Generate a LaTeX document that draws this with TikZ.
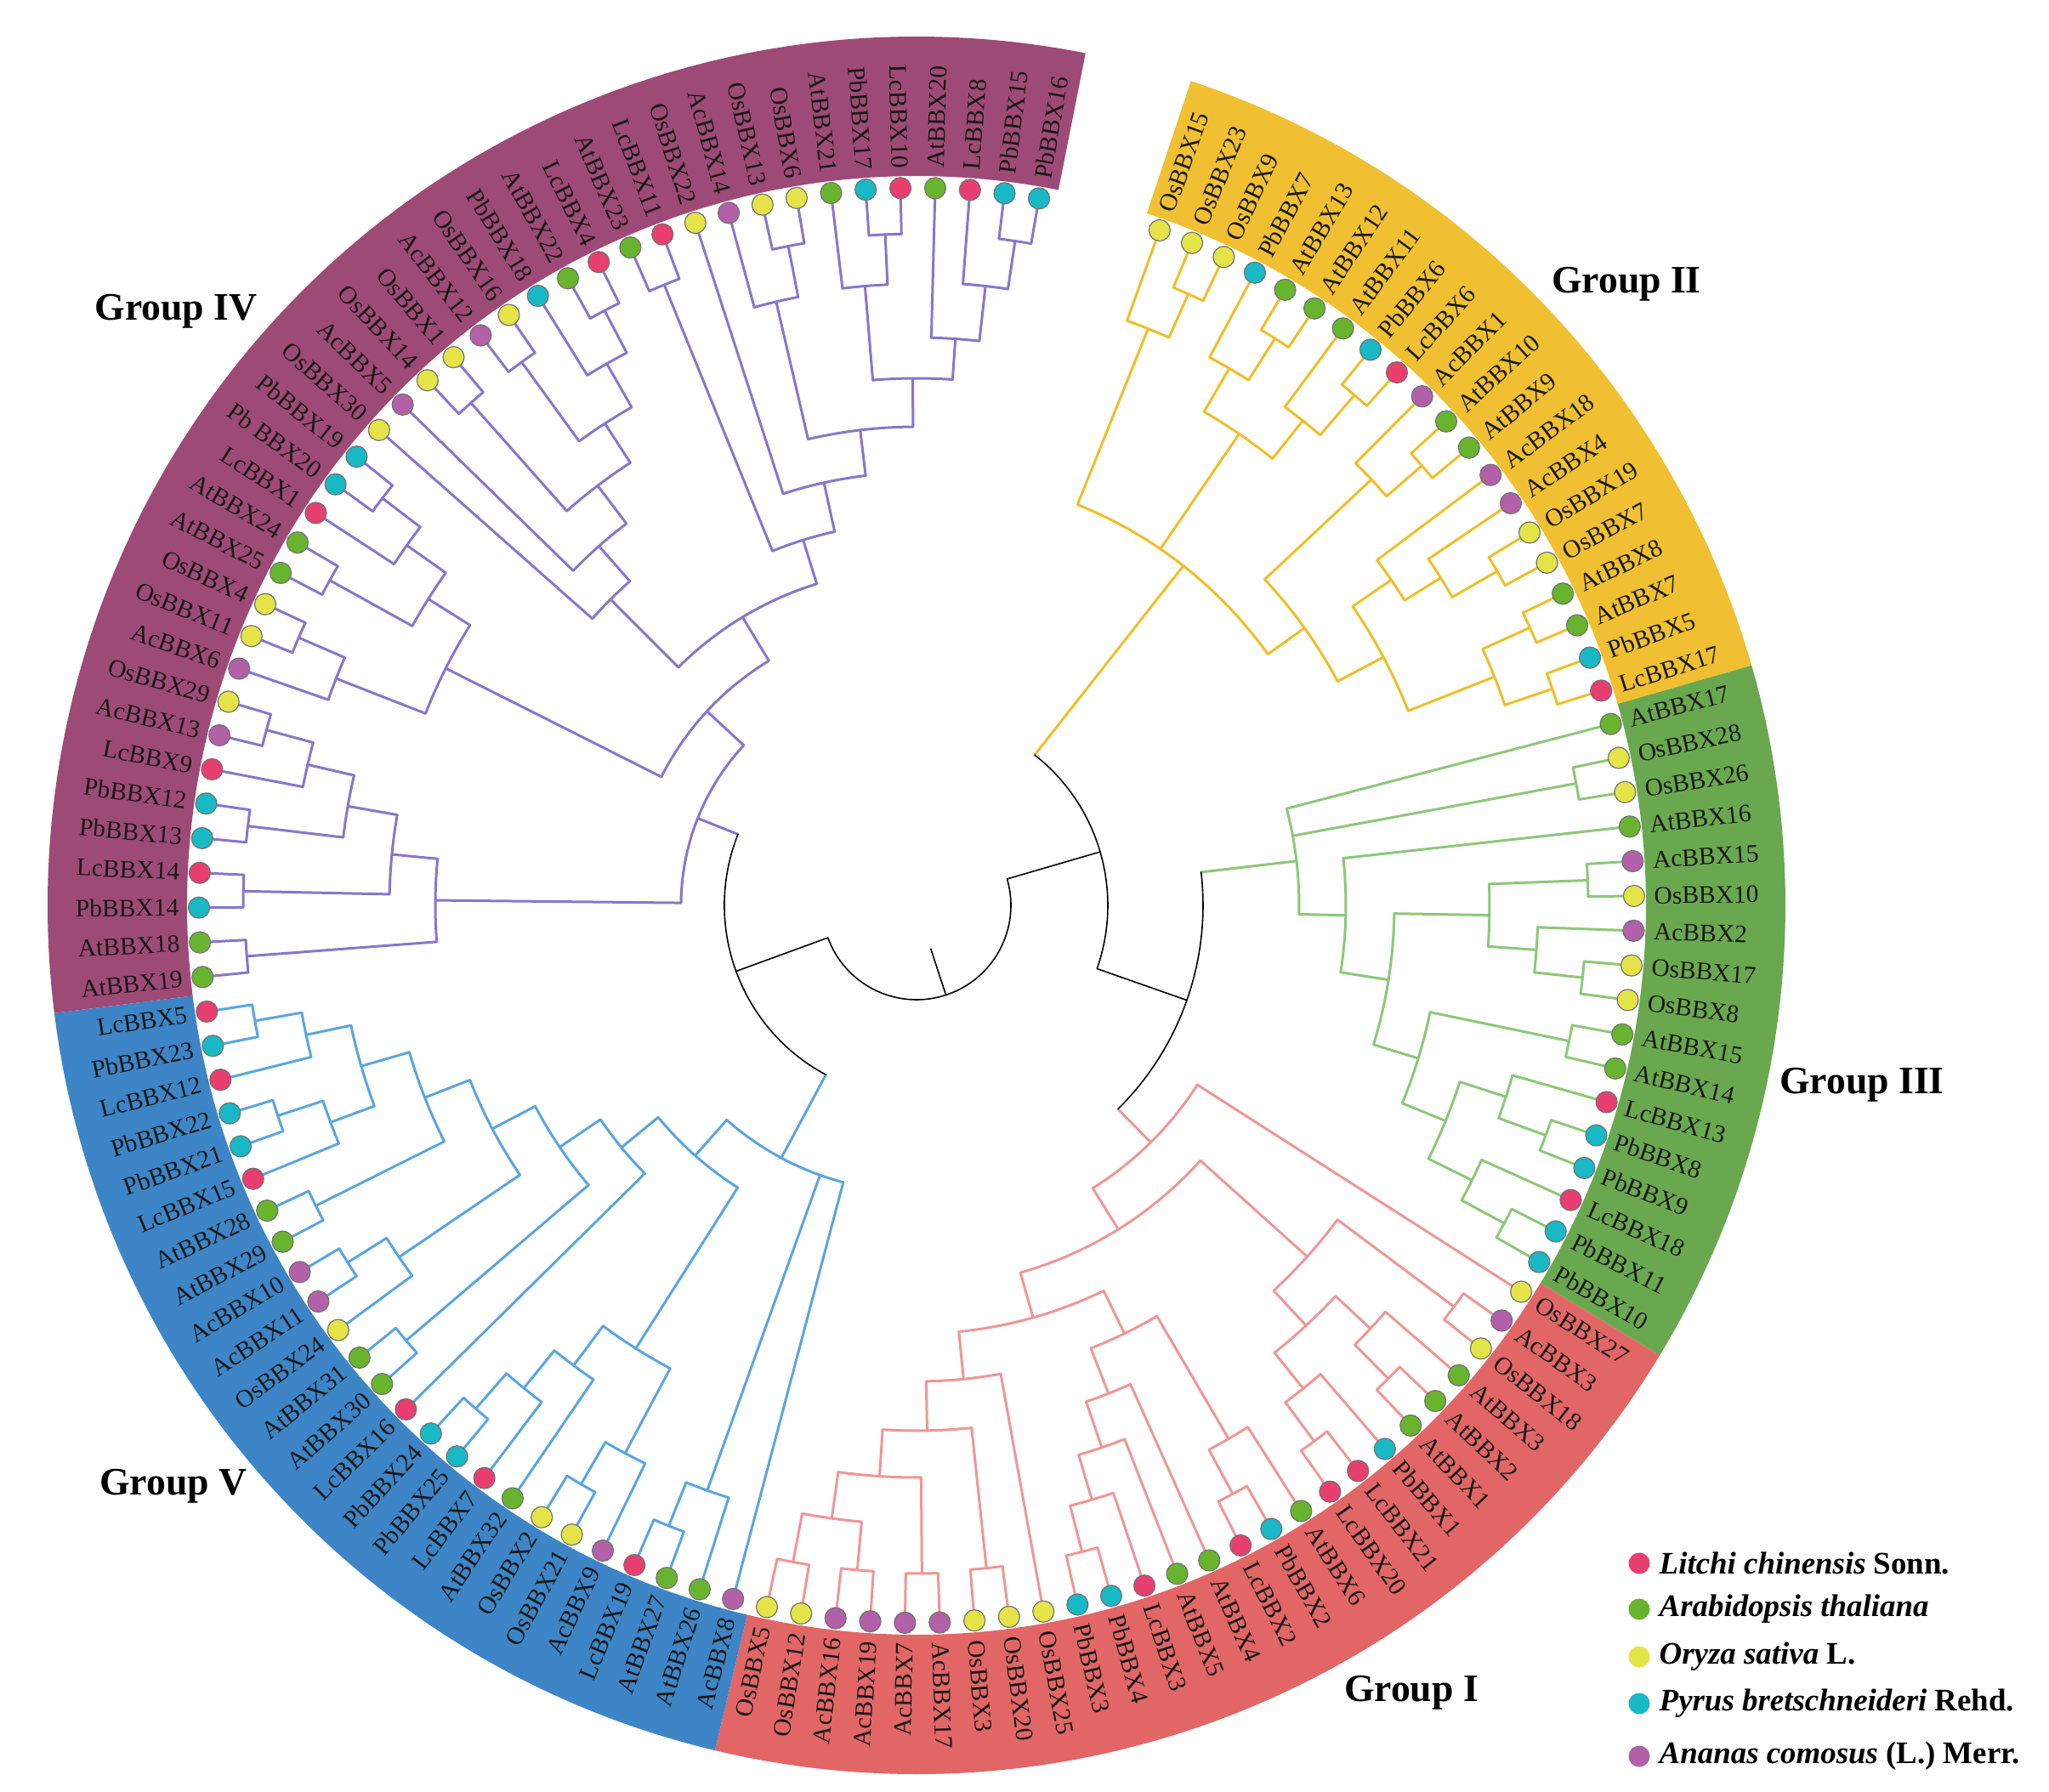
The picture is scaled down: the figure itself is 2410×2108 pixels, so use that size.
\documentclass[tikz,border=0pt]{standalone}
\usepackage{fontspec}
\setmainfont{Liberation Serif}
\definecolor{lc}{HTML}{E83E70}
\definecolor{at}{HTML}{68B42E}
\definecolor{os}{HTML}{E4E448}
\definecolor{pb}{HTML}{18B8C4}
\definecolor{ac}{HTML}{B260A8}
\definecolor{ring1}{HTML}{E26666}
\definecolor{ring2}{HTML}{F0C032}
\definecolor{ring3}{HTML}{6AA84F}
\definecolor{ring4}{HTML}{9E4A76}
\definecolor{ring5}{HTML}{3D85C6}
\definecolor{c1}{HTML}{F09696}
\definecolor{c2}{HTML}{F0BE28}
\definecolor{c3}{HTML}{8CC878}
\definecolor{c4}{HTML}{8876CC}
\definecolor{c5}{HTML}{5AA5E1}
\newcount\leafidx
\def\thz{70.2}
\def\dth{2.778}
\def\rleaf{844}
\def\rlab{867}
\gdef\gfirst{}\gdef\glast{}
\def\report#1{\ifx\gfirst\empty\xdef\gfirst{#1}\fi\xdef\glast{#1}}
\newcommand\Lf[2]{%
  \pgfmathsetmacro\ang{\thz-\the\leafidx*\dth}%
  \draw[br] (\ang:\rleaf) -- (\ang:\parentr);
  \node[leafdot,fill=#2] (d\the\leafidx) at (\ang:\rleaf) {};
  \pgfmathtruncatemacro\isleft{cos(\ang)<0 ? 1 : 0}%
  \ifnum\isleft=1
    \pgfmathsetmacro\rot{\ang+180}%
    \node[leaflab,anchor=east,rotate=\rot] (t\the\leafidx) at (\ang:\rlab) {#1};
  \else
    \node[leaflab,anchor=west,rotate=\ang] (t\the\leafidx) at (\ang:\rlab) {#1};
  \fi
  \global\advance\leafidx by 1
  \report{\ang}%
}
\newcommand\T[2]{%
  \begingroup
  \let\savedfirst\gfirst\let\savedlast\glast
  \let\myparentr\parentr
  \def\parentr{#1}%
  \gdef\gfirst{}\gdef\glast{}%
  #2%
  \pgfmathsetmacro\myang{(\gfirst+\glast)/2}%
  \draw[br] (\gfirst:#1) arc[start angle=\gfirst,end angle=\glast,radius=#1];
  \draw[br] (\myang:#1) -- (\myang:\myparentr);
  \global\let\gfirst\savedfirst\global\let\glast\savedlast
  \report{\myang}%
  \endgroup}
\newcommand\G[2]{\begingroup\tikzset{br/.style={draw=#1,line width=0.3mm,line cap=round}}#2\endgroup}
\newcommand\Ring[3]{\fill[#1] (#2:858) arc[start angle=#2,end angle=#3,radius=858] -- (#3:1022) arc[start angle=#3,end angle=#2,radius=1022] -- cycle;}
\begin{document}
\begin{tikzpicture}[x=0.1mm,y=0.1mm,
  br/.style={draw=black,line width=0.16mm,line cap=round},
  leafdot/.style={circle,draw=black!55,line width=0.12mm,minimum size=2.5mm,inner sep=0pt},
  leaflab/.style={inner sep=0pt,font=\fontsize{8.4}{10}\selectfont,text=black!90},
  grp/.style={font=\fontsize{13}{15}\selectfont\bfseries},
  legdot/.style={circle,minimum size=2.5mm,inner sep=0pt},
  legtxt/.style={anchor=west,inner sep=0pt,font=\fontsize{10.5}{12}\selectfont\bfseries}]
\useasboundingbox (-1078,-1043) rectangle (1332,1065);
\fill[white] (-1078,-1043) rectangle (1332,1065);
% coloured rings
\Ring{ring2}{71.59}{16.03}
\Ring{ring3}{16.03}{-31.20}
\Ring{ring1}{-31.20}{-103.42}
\Ring{ring5}{-103.42}{-172.87}
\Ring{ring4}{-172.87}{-281.22}
% tree
\def\parentr{54}
\T{111}{%
 \T{225}{%
  \G{c2}{%
   \T{508}{%
    \T{731}{\Lf{OsBBX15}{os}\T{787}{\Lf{OsBBX23}{os}\Lf{OsBBX9}{os}}}%
    \T{672}{\T{731}{\Lf{PbBBX7}{pb}\T{789}{\Lf{AtBBX13}{at}\Lf{AtBBX12}{at}}}\T{729}{\Lf{AtBBX11}{at}\T{791}{\Lf{PbBBX6}{pb}\Lf{LcBBX6}{lc}}}}%
    \T{561}{\T{733}{\Lf{AcBBX1}{ac}\T{788}{\Lf{AtBBX10}{at}\Lf{AtBBX9}{at}}}\T{622}{\T{677}{\Lf{AcBBX18}{ac}\T{727}{\Lf{AcBBX4}{ac}\T{788}{\Lf{OsBBX19}{os}\Lf{OsBBX7}{os}}}}\T{731}{\T{792}{\Lf{AtBBX8}{at}\Lf{AtBBX7}{at}}\T{790}{\Lf{PbBBX5}{pb}\Lf{LcBBX17}{lc}}}}}%
   }%
  }%
  \T{337}{%
   \G{c3}{%
    \T{450}{\Lf{AtBBX17}{at}\T{789}{\Lf{OsBBX28}{os}\Lf{OsBBX26}{os}}\T{505}{\Lf{AtBBX16}{at}\T{562}{\T{674}{\T{790}{\Lf{AcBBX15}{ac}\Lf{OsBBX10}{os}}\T{731}{\Lf{AcBBX2}{ac}\T{788}{\Lf{OsBBX17}{os}\Lf{OsBBX8}{os}}}}\T{617}{\T{784}{\Lf{AtBBX15}{at}\Lf{AtBBX14}{at}}\T{672}{\T{729}{\Lf{LcBBX13}{lc}\T{788}{\Lf{PbBBX8}{pb}\Lf{PbBBX9}{pb}}}\T{729}{\Lf{LcBBX18}{lc}\T{786}{\Lf{PbBBX11}{pb}\Lf{PbBBX10}{pb}}}}}}}}%
   }%
   \G{c1}{%
    \T{392}{\Lf{OsBBX27}{os}\T{449}{%
      \T{618}{\T{789}{\Lf{AcBBX3}{ac}\Lf{OsBBX18}{os}}\T{674}{\T{730}{\Lf{AtBBX3}{at}\T{786}{\Lf{AtBBX2}{at}\Lf{AtBBX1}{at}}}\T{728}{\Lf{PbBBX1}{pb}\T{785}{\Lf{LcBBX21}{lc}\Lf{LcBBX20}{lc}}}}}%
      \T{504}{%
       \T{560}{\T{727}{\Lf{AtBBX6}{at}\T{786}{\Lf{PbBBX2}{pb}\Lf{LcBBX2}{lc}}}\T{617}{\Lf{AtBBX4}{at}\T{674}{\Lf{AtBBX5}{at}\T{729}{\Lf{LcBBX3}{lc}\T{785}{\Lf{PbBBX4}{pb}\Lf{PbBBX3}{pb}}}}}}%
       \T{560}{\Lf{OsBBX25}{os}\T{618}{\T{784}{\Lf{OsBBX20}{os}\Lf{OsBBX3}{os}}\T{673}{\T{786}{\Lf{AcBBX17}{ac}\Lf{AcBBX7}{ac}}\T{728}{\T{785}{\Lf{AcBBX19}{ac}\Lf{AcBBX16}{ac}}\T{786}{\Lf{OsBBX12}{os}\Lf{OsBBX5}{os}}}}}}%
      }%
    }}%
   }%
  }%
 }%
 \T{226}{%
  \G{c5}{%
   \T{337}{\Lf{AcBBX8}{ac}\T{731}{\Lf{AtBBX26}{at}\T{786}{\Lf{AtBBX27}{at}\Lf{LcBBX19}{lc}}}%
    \T{393}{%
     \T{617}{\T{730}{\Lf{AcBBX9}{ac}\T{787}{\Lf{OsBBX21}{os}\Lf{OsBBX2}{os}}}\T{675}{\Lf{AtBBX32}{at}\T{732}{\Lf{LcBBX7}{lc}\T{787}{\Lf{PbBBX25}{pb}\Lf{PbBBX24}{pb}}}}}%
     \T{449}{\Lf{LcBBX16}{lc}\T{507}{\T{789}{\Lf{AtBBX30}{at}\Lf{AtBBX31}{at}}\T{564}{\T{736}{\Lf{OsBBX24}{os}\T{790}{\Lf{AcBBX11}{ac}\Lf{AcBBX10}{ac}}}\T{621}{\T{790}{\Lf{AtBBX29}{at}\Lf{AtBBX28}{at}}\T{680}{\T{735}{\Lf{LcBBX15}{lc}\T{791}{\Lf{PbBBX21}{pb}\Lf{PbBBX22}{pb}}}\T{734}{\Lf{LcBBX12}{lc}\T{790}{\Lf{PbBBX23}{pb}\Lf{LcBBX5}{lc}}}}}}}}%
    }%
   }%
  }%
  \G{c4}{%
   \T{277}{%
    \T{566}{\T{790}{\Lf{AtBBX19}{at}\Lf{AtBBX18}{at}}\T{620}{\T{792}{\Lf{PbBBX14}{pb}\Lf{LcBBX14}{lc}}\T{679}{\T{792}{\Lf{PbBBX13}{pb}\Lf{PbBBX12}{pb}}\T{735}{\Lf{LcBBX9}{lc}\T{792}{\Lf{AcBBX13}{ac}\Lf{OsBBX29}{os}}}}}}%
    \T{336}{%
     \T{620}{\T{733}{\Lf{AcBBX6}{ac}\T{792}{\Lf{OsBBX11}{os}\Lf{OsBBX4}{os}}}\T{678}{\T{789}{\Lf{AtBBX25}{at}\Lf{AtBBX24}{at}}\T{734}{\Lf{LcBBX1}{lc}\T{790}{\Lf{Pb BBX20}{pb}\Lf{PbBBX19}{pb}}}}}%
     \T{396}{%
      \T{509}{\Lf{OsBBX30}{os}\T{564}{\Lf{AcBBX5}{ac}\T{620}{\T{790}{\Lf{OsBBX14}{os}\Lf{OsBBX1}{os}}\T{675}{\T{790}{\Lf{AcBBX12}{ac}\Lf{OsBBX16}{os}}\T{734}{\Lf{PbBBX18}{pb}\T{790}{\Lf{AtBBX22}{at}\Lf{LcBBX4}{lc}}}}}}}%
      \T{450}{\T{788}{\Lf{AtBBX23}{at}\Lf{LcBBX11}{lc}}\T{509}{\Lf{OsBBX22}{os}\T{563}{\T{729}{\Lf{AcBBX14}{ac}\T{790}{\Lf{OsBBX13}{os}\Lf{OsBBX6}{os}}}\T{620}{\T{731}{\Lf{AtBBX21}{at}\T{790}{\Lf{PbBBX17}{pb}\Lf{LcBBX10}{lc}}}\T{668}{\Lf{AtBBX20}{at}\T{733}{\Lf{LcBBX8}{lc}\T{790}{\Lf{PbBBX15}{pb}\Lf{PbBBX16}{pb}}}}}}}}%
     }%
    }%
   }%
  }%
 }%
}
% group labels
\node[grp] (g4) at (-871,699) {Group IV};
\node[grp] (g2) at (835,731) {Group II};
\node[grp] (g3) at (1112,-211) {Group III};
\node[grp] (g5) at (-874,-683) {Group V};
\node[grp] (g1) at (582,-926) {Group I};
% legend
\node[legdot,fill=lc] (k1) at (850,-774) {};
\node[legdot,fill=at] (k2) at (850,-828) {};
\node[legdot,fill=os] (k3) at (850,-884) {};
\node[legdot,fill=pb] (k4) at (850,-939) {};
\node[legdot,fill=ac] (k5) at (850,-1001) {};
\node[legtxt] (l1) at (873,-774) {\textit{Litchi chinensis} Sonn.};
\node[legtxt] (l2) at (873,-828) {\textit{Arabidopsis thaliana}};
\node[legtxt] (l3) at (873,-884) {\textit{Oryza sativa} L.};
\node[legtxt] (l4) at (873,-939) {\textit{Pyrus bretschneideri} Rehd.};
\node[legtxt] (l5) at (873,-1001) {\textit{Ananas comosus} (L.) Merr.};
\end{tikzpicture}
\end{document}
